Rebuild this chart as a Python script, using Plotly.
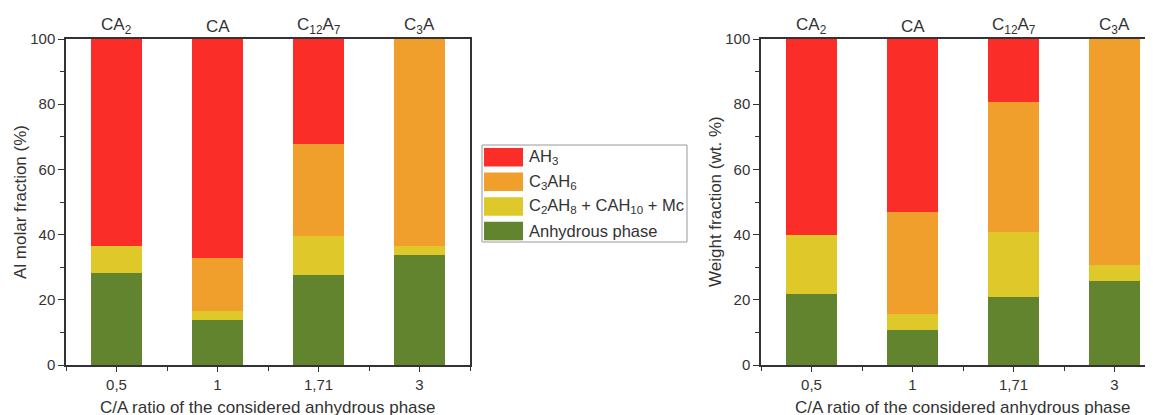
import plotly.graph_objects as go

# ---------------- data ----------------
phases = ["CA<sub>2</sub>", "CA", "C<sub>12</sub>A<sub>7</sub>", "C<sub>3</sub>A"]
ratio_labels = ["0,5", "1", "1,71", "3"]
series_names = ["Anhydrous phase", "C<sub>2</sub>AH<sub>8</sub> + CAH<sub>10</sub> + Mc",
                "C<sub>3</sub>AH<sub>6</sub>", "AH<sub>3</sub>"]
series_colors = ["#62842E", "#DEC82A", "#F09E2C", "#FA2D28"]

# Al molar fraction (%)
molar_anhydrous = [28.2, 13.7, 27.7, 33.7]
molar_c2ah8 = [8.4, 3.0, 12.0, 2.9]
molar_c3ah6 = [0.0, 16.0, 28.0, 63.4]
molar_ah3 = [63.4, 67.3, 32.3, 0.0]

# Weight fraction (wt. %)
wt_anhydrous = [21.8, 10.7, 20.8, 25.9]
wt_c2ah8 = [18.0, 5.0, 20.0, 4.9]
wt_c3ah6 = [0.0, 31.1, 39.9, 69.2]
wt_ah3 = [60.2, 53.2, 19.3, 0.0]

W, H = 1153, 415
OFF = 8  # page offset of the plot div
FONT = "Liberation Sans, Arial, sans-serif"
TXT = "#333333"
AX = "#333333"

def px(x):
    return (x - OFF) / W

def py(y):
    return 1 - (y - OFF) / H

pos = list(range(len(phases)))

fig = go.Figure()
molar = [molar_anhydrous, molar_c2ah8, molar_c3ah6, molar_ah3]
wt = [wt_anhydrous, wt_c2ah8, wt_c3ah6, wt_ah3]
for vals, name, col in zip(molar, series_names, series_colors):
    fig.add_trace(go.Bar(x=pos, y=vals, name=name, marker=dict(color=col, line=dict(width=0)),
                         width=0.5, showlegend=False, xaxis="x", yaxis="y"))
for vals, name, col in zip(wt, series_names, series_colors):
    fig.add_trace(go.Bar(x=pos, y=vals, name=name, marker=dict(color=col, line=dict(width=0)),
                         width=0.5, showlegend=False, xaxis="x2", yaxis="y2"))

ydom = [py(365), py(39)]

def xaxis(domain, rng, anchor):
    return dict(domain=domain, range=rng, anchor=anchor, tickmode="array", tickvals=pos,
                ticktext=ratio_labels, ticks="outside", ticklen=5, tickwidth=1.2, tickcolor=AX,
                showline=True, linecolor=AX, linewidth=1.5, mirror=True, showgrid=False,
                zeroline=False, automargin=False,
                minor=dict(tickmode="array", tickvals=[-0.5, 0.5, 1.5, 2.5, 3.5], ticks="outside",
                           ticklen=4, tickcolor=AX, tickwidth=1.2),
                tickfont=dict(family=FONT, size=15, color=TXT))

def yaxis(domain, anchor):
    return dict(domain=domain, range=[0, 100], anchor=anchor, tickmode="linear", tick0=0, dtick=20,
                ticks="outside", ticklen=6, tickwidth=1.2, tickcolor=AX,
                showline=True, linecolor=AX, linewidth=1.5, mirror=True, showgrid=False,
                zeroline=False, automargin=False,
                minor=dict(dtick=10, ticks="outside", ticklen=4, tickcolor=AX, tickwidth=1.2),
                tickfont=dict(family=FONT, size=15, color=TXT))

title_font = dict(family=FONT, size=17, color=TXT)
annotations = []
for p, lab in zip(pos, phases):
    for xr in ("x", "x2"):
        annotations.append(dict(x=p, xref=xr, y=py(26), yref="paper", text=lab, showarrow=False,
                                xanchor="center", yanchor="middle",
                                font=dict(family=FONT, size=17, color=TXT)))

# axis titles
xtitle = "C/A ratio of the considered anhydrous phase"
annotations.append(dict(x=px(268), xref="paper", y=py(407), yref="paper", text=xtitle,
                        showarrow=False, xanchor="center", yanchor="middle", font=title_font))
annotations.append(dict(x=px(963), xref="paper", y=py(407), yref="paper", text=xtitle,
                        showarrow=False, xanchor="center", yanchor="middle", font=title_font))
annotations.append(dict(x=px(20), xref="paper", y=py(202), yref="paper", text="Al molar fraction (%)",
                        textangle=-90, showarrow=False, xanchor="center", yanchor="middle", font=title_font))
annotations.append(dict(x=px(715), xref="paper", y=py(202), yref="paper", text="Weight fraction (wt. %)",
                        textangle=-90, showarrow=False, xanchor="center", yanchor="middle", font=title_font))

# manual legend (top to bottom)
shapes = [dict(type="rect", xref="paper", yref="paper", x0=px(482), x1=px(687), y0=py(242), y1=py(145),
               line=dict(color="#999999", width=1), fillcolor="white", layer="below")]
leg_names = list(reversed(series_names))
leg_colors = list(reversed(series_colors))
for i, (name, col) in enumerate(zip(leg_names, leg_colors)):
    top = 148 + i * 24.6
    shapes.append(dict(type="rect", xref="paper", yref="paper", x0=px(484), x1=px(523),
                       y0=py(top + 18.5), y1=py(top), line=dict(width=0), fillcolor=col))
    annotations.append(dict(x=px(527), xref="paper", y=py(top + 9), yref="paper", text=name,
                            showarrow=False, xanchor="left", yanchor="middle",
                            font=dict(family=FONT, size=16.5, color=TXT)))

fig.update_layout(
    width=W, height=H, margin=dict(l=0, r=0, t=0, b=0),
    paper_bgcolor="white", plot_bgcolor="white", barmode="stack",
    xaxis=xaxis([px(66), px(470)], [-0.5, 3.5], "y"),
    yaxis=yaxis(ydom, "x"),
    xaxis2=xaxis([px(761), 1.0], [-0.5, 3.46], "y2"),
    yaxis2=yaxis(ydom, "x2"),
    annotations=annotations, shapes=shapes, showlegend=False,
)

fig.write_html("out.html")
